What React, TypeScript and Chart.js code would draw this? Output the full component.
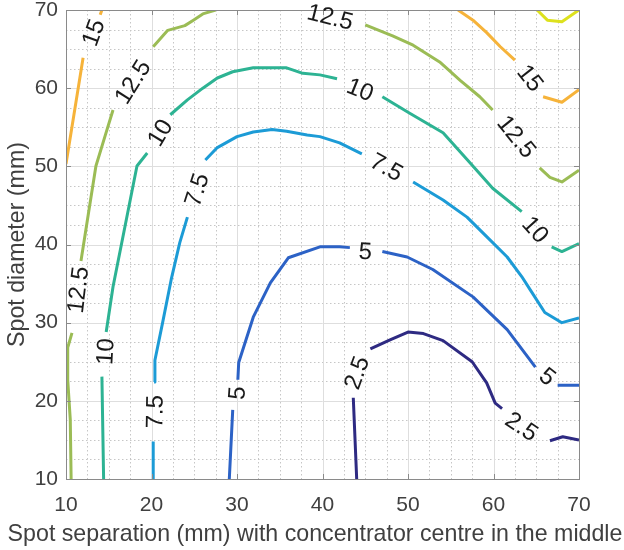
import { useEffect, useRef } from 'react';
import { Chart, registerables } from 'chart.js';

Chart.register(...registerables);

// ---- axis setup ----
const X_MIN = 10;
const X_MAX = 70;
const Y_MIN = 10;
const Y_MAX = 70;
const MAJOR_STEP = 10;
const MINOR_STEP = 2.5;
const X_TITLE = 'Spot separation (mm) with concentrator centre in the middle';
const Y_TITLE = 'Spot diameter (mm)';

// ---- contour levels (null = break where the inline label sits) ----
const LEVELS = ['2.5', '5', '7.5', '10', '12.5', '15', '17.5'];

const C2_5_X = [44.0, 43.6, null, 45.6, 47.9, 50.0, 51.8, 54.1, 57.5, 59.2, 60.2, 61.0, null, 66.6, 68.1, 70];
const C2_5_Y = [10, 20.4, null, 26.65, 27.8, 28.8, 28.6, 27.7, 25.0, 22.3, 19.7, 19.0, null, 14.9, 15.4, 15.0];

const C5_X = [29.1, 29.5, null, 30.1, 30.2, 31.9, 33.9, 36.0, 39.7, 42.0, 43.2, null, 47.0, 49.9, 52.9, 57.6, 61.6, 64.9, null, 67.5, 70];
const C5_Y = [10, 18.85, null, 22.7, 24.9, 30.7, 35.1, 38.3, 39.7, 39.7, 39.6, null, 39.1, 38.4, 36.8, 33.3, 29.1, 24.3, null, 22.0, 22.0];

const C7_5_X = [20.2, 20.2, null, 20.3, 20.4, 21.3, 22.3, 23.3, 24.2, null, 26.3, 27.7, 30.0, 31.9, 34.1, 35.8, 38.2, 39.7, 42.0, 44.6, null, 50.6, 54.1, 56.9, 59.2, 61.6, 63.3, 64.3, 66.0, 68.0, 70];
const C7_5_Y = [10, 14.8, null, 22.4, 25.2, 30.0, 35.5, 40.2, 43.5, null, 50.8, 52.4, 53.8, 54.4, 54.7, 54.5, 54.0, 53.8, 53.0, 51.6, null, 48.0, 45.7, 43.5, 41.0, 38.4, 35.9, 34.2, 31.3, 30.0, 30.6];

const C10_X = [14.4, 14.2, null, 14.7, 15.5, 18.3, 19.5, null, 22.2, 24.2, 26.0, 27.7, 29.5, 31.9, 35.8, 37.7, 39.7, 41.7, null, 47.0, 50.2, 54.1, 57.3, 59.9, 63.3, null, 66.8, 68.0, 70];
const C10_Y = [10, 23.1, null, 28.8, 34.6, 50.05, 51.7, null, 56.6, 58.5, 60.0, 61.3, 62.1, 62.6, 62.6, 61.9, 61.7, 61.2, null, 58.9, 56.8, 54.3, 50.4, 47.2, 44.2, null, 39.7, 39.1, 40.1];

const C12_5_X = [10.6, 10.5, 10.2, 10.2, 10.7, null, 11.75, 12.6, 13.5, 14.6, 15.5, null, 20.2, 21.9, 23.9, 24.9, 26.0, 27.5, null, 45.0, 48.2, 50.6, 53.7, 56.1, 58.4, 59.9, null, 65.4, 66.6, 68.0, 70];
const C12_5_Y = [10, 17.6, 22.7, 26.8, 28.7, null, 37.9, 43.8, 50.05, 54.0, 57.2, null, 65.3, 67.4, 68.0, 68.7, 69.5, 70, null, 68.1, 66.7, 65.5, 63.35, 61.0, 58.9, 57.2, null, 49.8, 48.6, 48.0, 49.5];

const C15_X = [10, 12.0, null, 14.0, 14.2, null, 55.85, 57.6, 59.2, 60.8, 62.5, null, 65.8, 68.0, 70];
const C15_Y = [50.3, 63.9, null, 69.4, 70, null, 70, 68.7, 67.1, 65.3, 63.6, null, 58.9, 58.2, 59.8];

const C17_5_X = [65.1, 66.3, 68.0, 70];
const C17_5_Y = [70, 68.7, 68.5, 70];

// ---- inline contour labels ----
const LABEL_TEXT = ['15', '12.5', '12.5', '10', '10', '7.5', '7.5', '5', '2.5', '12.5', '10', '7.5', '5', '15', '12.5', '10', '5', '2.5'];
const LABEL_X = [13.2, 17.8, 11.4, 14.6, 21.0, 20.4, 25.3, 30.0, 44.0, 40.9, 44.4, 47.5, 45.0, 64.3, 62.7, 64.9, 66.3, 63.3];
const LABEL_Y = [67.1, 60.8, 34.2, 26.3, 54.3, 18.6, 47.0, 21.0, 23.6, 69.1, 59.8, 49.9, 39.1, 61.3, 53.8, 41.9, 23.1, 16.7];
const LABEL_ANGLE = [-70, -58, -83, -87, -59, -89, -72, -86, -70, 14, 22, 29, 3, 52, 51, 48, 38, 34];

// ---- styles ----
const LEVEL_COLORS = ['#2e2a82', '#2c62c6', '#1c9bd6', '#2db393', '#9bbc55', '#f6b33a', '#dde11d'];
const FONT = '"Liberation Sans", Arial, Helvetica, sans-serif';
const TEXT_COLOR = '#404040';
const AXIS_COLOR = '#8a8a8a';
const MAJOR_GRID = '#dedede';
const MINOR_GRID = '#c6c6c6';

const CONTOUR_X = [C2_5_X, C5_X, C7_5_X, C10_X, C12_5_X, C15_X, C17_5_X];
const CONTOUR_Y = [C2_5_Y, C5_Y, C7_5_Y, C10_Y, C12_5_Y, C15_Y, C17_5_Y];

const decorPlugin = {
  id: 'contourDecor',
  beforeDatasetsDraw(chart: any) {
    const { ctx, chartArea: a, scales } = chart;
    const xs = scales.x;
    const ys = scales.y;
    ctx.save();
    ctx.lineWidth = 1;
    // minor dotted grid
    ctx.strokeStyle = MINOR_GRID;
    ctx.setLineDash([1.5, 2.5]);
    for (let v = X_MIN + MINOR_STEP; v < X_MAX; v += MINOR_STEP) {
      if (Math.abs(v % MAJOR_STEP) < 1e-9) continue;
      const p = Math.round(xs.getPixelForValue(v)) + 0.5;
      ctx.beginPath(); ctx.moveTo(p, a.top); ctx.lineTo(p, a.bottom); ctx.stroke();
    }
    for (let v = Y_MIN + MINOR_STEP; v < Y_MAX; v += MINOR_STEP) {
      if (Math.abs(v % MAJOR_STEP) < 1e-9) continue;
      const p = Math.round(ys.getPixelForValue(v)) + 0.5;
      ctx.beginPath(); ctx.moveTo(a.left, p); ctx.lineTo(a.right, p); ctx.stroke();
    }
    // major solid grid
    ctx.setLineDash([]);
    ctx.strokeStyle = MAJOR_GRID;
    for (let v = X_MIN + MAJOR_STEP; v < X_MAX; v += MAJOR_STEP) {
      const p = Math.round(xs.getPixelForValue(v)) + 0.5;
      ctx.beginPath(); ctx.moveTo(p, a.top); ctx.lineTo(p, a.bottom); ctx.stroke();
    }
    for (let v = Y_MIN + MAJOR_STEP; v < Y_MAX; v += MAJOR_STEP) {
      const p = Math.round(ys.getPixelForValue(v)) + 0.5;
      ctx.beginPath(); ctx.moveTo(a.left, p); ctx.lineTo(a.right, p); ctx.stroke();
    }
    ctx.restore();
  },
  afterDatasetsDraw(chart: any) {
    const { ctx, chartArea: a, scales } = chart;
    const xs = scales.x;
    const ys = scales.y;
    ctx.save();
    // box
    ctx.strokeStyle = AXIS_COLOR;
    ctx.lineWidth = 1;
    ctx.strokeRect(Math.round(a.left) + 0.5, Math.round(a.top) + 0.5, Math.round(a.right - a.left), Math.round(a.bottom - a.top));
    // inward tick marks
    const tl = 5;
    for (let v = X_MIN + MAJOR_STEP; v < X_MAX; v += MAJOR_STEP) {
      const p = Math.round(xs.getPixelForValue(v)) + 0.5;
      ctx.beginPath();
      ctx.moveTo(p, a.bottom); ctx.lineTo(p, a.bottom - tl);
      ctx.moveTo(p, a.top); ctx.lineTo(p, a.top + tl);
      ctx.stroke();
    }
    for (let v = Y_MIN + MAJOR_STEP; v < Y_MAX; v += MAJOR_STEP) {
      const p = Math.round(ys.getPixelForValue(v)) + 0.5;
      ctx.beginPath();
      ctx.moveTo(a.left, p); ctx.lineTo(a.left + tl, p);
      ctx.moveTo(a.right, p); ctx.lineTo(a.right - tl, p);
      ctx.stroke();
    }
    // contour labels
    ctx.fillStyle = '#1a1a1a';
    ctx.font = `24px ${FONT}`;
    ctx.textAlign = 'center';
    ctx.textBaseline = 'middle';
    LABEL_TEXT.forEach((t, i) => {
      const px = xs.getPixelForValue(LABEL_X[i]);
      const py = ys.getPixelForValue(LABEL_Y[i]);
      ctx.save();
      ctx.translate(px, py);
      ctx.rotate((LABEL_ANGLE[i] * Math.PI) / 180);
      ctx.fillText(t, 0, 1);
      ctx.restore();
    });
    // x-axis title (drawn unsqueezed; it is wider than the axis itself)
    ctx.fillStyle = TEXT_COLOR;
    ctx.font = `23.2px ${FONT}`;
    ctx.textAlign = 'center';
    ctx.textBaseline = 'alphabetic';
    ctx.fillText(X_TITLE, chart.width / 2 + 3, chart.height - 9);
    ctx.restore();
  },
};

export default function App() {
  const ref = useRef<HTMLCanvasElement>(null);
  useEffect(() => {
    if (!ref.current) return;
    Chart.defaults.font.family = FONT;
    const datasets = LEVELS.map((lv, k) => ({
      label: lv,
      data: CONTOUR_X[k].map((x, i) => ({ x: x as any, y: CONTOUR_Y[k][i] as any })),
      borderColor: LEVEL_COLORS[k],
      backgroundColor: LEVEL_COLORS[k],
      borderWidth: 3,
      pointRadius: 0,
      pointHoverRadius: 0,
      tension: 0,
      spanGaps: false,
      fill: false,
      borderJoinStyle: 'round' as const,
    }));
    const chart = new Chart(ref.current, {
      type: 'line',
      data: { datasets },
      options: {
        animation: false,
        responsive: false,
        devicePixelRatio: 1,
        layout: { padding: { left: 0, right: 45, top: 10, bottom: 0 } },
        plugins: { legend: { display: false }, tooltip: { enabled: false } },
        scales: {
          x: {
            type: 'linear',
            min: X_MIN,
            max: X_MAX,
            afterFit: (s: any) => { s.height = 71; s.paddingLeft = 0; s.paddingRight = 0; },
            ticks: { stepSize: MAJOR_STEP, color: TEXT_COLOR, font: { size: 21 }, padding: 14, maxRotation: 0 },
            grid: { display: false, drawTicks: false },
            border: { display: false },
            title: { display: false },
          },
          y: {
            type: 'linear',
            min: Y_MIN,
            max: Y_MAX,
            afterFit: (s: any) => { s.width = 66; s.paddingTop = 0; s.paddingBottom = 0; },
            ticks: { stepSize: MAJOR_STEP, color: TEXT_COLOR, font: { size: 21 }, padding: 8 },
            grid: { display: false, drawTicks: false },
            border: { display: false },
            title: { display: true, text: Y_TITLE, color: TEXT_COLOR, font: { size: 23.2 }, padding: { top: 4, bottom: 0 } },
          },
        },
      },
      plugins: [decorPlugin],
    });
    return () => chart.destroy();
  }, []);
  return (
    <div style={{ position: 'absolute', left: 0, top: 0, width: 624, height: 550, background: '#fff' }}>
      <canvas ref={ref} width={624} height={550} style={{ display: 'block', width: 624, height: 550 }} />
    </div>
  );
}
